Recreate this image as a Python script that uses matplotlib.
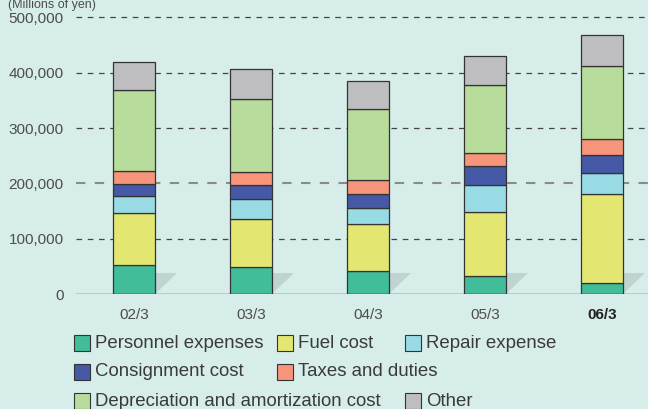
import numpy as np
import matplotlib
matplotlib.use("Agg")
import matplotlib.pyplot as plt
from matplotlib.patches import Polygon, Rectangle

plt.rcParams['font.family'] = ['Liberation Sans', 'DejaVu Sans']

years = ['02/3', '03/3', '04/3', '05/3', '06/3']

personnel = [53400, 49000, 41500, 32500, 20400]
fuel = [92800, 86000, 85900, 116500, 161200]
repair = [30700, 36500, 28400, 47700, 37900]
consignment = [22200, 25500, 25800, 34300, 31200]
taxes = [24000, 23000, 24000, 24600, 30300]
depreciation = [145100, 133000, 128200, 121400, 131000]
other = [51600, 53000, 50200, 52600, 55000]

series = [personnel, fuel, repair, consignment, taxes, depreciation, other]
names = ['Personnel expenses', 'Fuel cost', 'Repair expense', 'Consignment cost',
         'Taxes and duties', 'Depreciation and amortization cost', 'Other']
colors = ['#41bd99', '#e4e672', '#99dbe5', '#4559a6', '#f6957a', '#b7dc9c', '#bebec0']

bg = '#d6ede9'
fig = plt.figure(figsize=(6.48, 4.09), dpi=100, facecolor=bg)
ax = fig.add_axes([76 / 648, 1 - 294.3 / 409, 572 / 648, 294.3 / 409])
ax.set_facecolor(bg)

x = np.arange(len(years))
w = 0.367

# gridlines
for v in [100000, 200000, 300000, 400000, 500000]:
    if v == 200000:
        ax.axhline(v, color='#8a8a8a', lw=1.5, dashes=(4.5, 4.5), zorder=1)
    else:
        ax.axhline(v, color='#444444', lw=0.9, dashes=(4.5, 4.5), zorder=1)
ax.axhline(0, color='#444444', lw=1.0, zorder=4)

# shadows
for xi in x:
    ax.add_patch(Polygon([[xi + w / 2, 0], [xi + w / 2, 38000], [xi + w / 2 + 0.18, 38000]],
                         closed=True, facecolor='#8a9a98', alpha=0.3, lw=0, zorder=2))

bottom = np.zeros(len(years))
for vals, c in zip(series, colors):
    ax.bar(x, vals, w, bottom=bottom, color=c, edgecolor='#333333', lw=0.9, zorder=3)
    bottom += np.array(vals)

ax.set_xlim(-0.496, 4.393)
ax.set_ylim(0, 531000)
for s in ax.spines.values():
    s.set_visible(False)
ax.set_yticks([0, 100000, 200000, 300000, 400000, 500000])
ax.set_yticklabels(['0', '100,000', '200,000', '300,000', '400,000', '500,000'])
ax.set_xticks(x)
ax.set_xticklabels(years)
ax.tick_params(length=0, labelsize=11, colors='#4d4d4d', pad=10)
ax.tick_params(axis='y', pad=9)
ax.get_xticklabels()[-1].set_fontweight('bold')
ax.get_xticklabels()[-1].set_color('#222222')

fig.text(8 / 648, 1 - 5 / 409, '(Millions of yen)', fontsize=9, color='#4d4d4d', va='center', ha='left')

# legend laid out by hand
rows = [[(0, 74), (1, 277), (2, 405)], [(3, 74), (4, 277)], [(5, 74), (6, 405)]]
row_y = [343, 372, 401]
for r, yy in zip(rows, row_y):
    for i, xx in r:
        fig.patches.append(Rectangle((xx / 648, 1 - (yy + 8) / 409), 16 / 648, 16 / 409,
                                     transform=fig.transFigure, facecolor=colors[i],
                                     edgecolor='#333333', lw=0.8))
        fig.text((xx + 21) / 648, 1 - yy / 409, names[i], fontsize=13.4, color='#3a3a3a',
                 va='center', ha='left')

fig.savefig('out.png', dpi=100, facecolor=bg)
